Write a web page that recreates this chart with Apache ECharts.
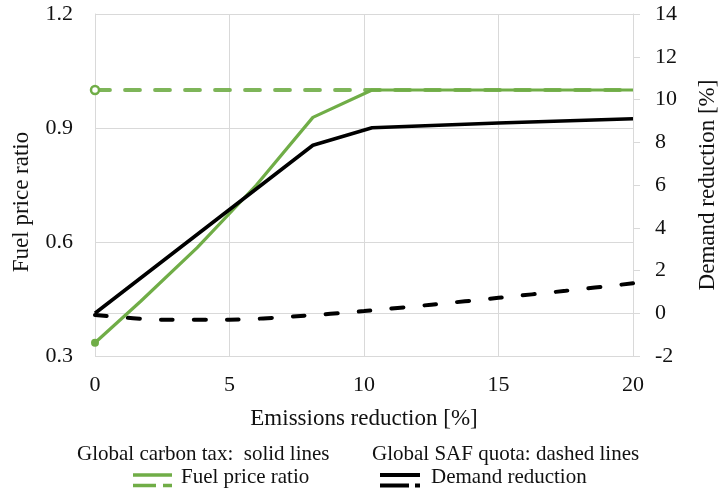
<!DOCTYPE html>
<html>
<head>
<meta charset="utf-8">
<script src="https://cdn.jsdelivr.net/npm/echarts@6/dist/echarts.min.js"></script>
<style>
  html, body { margin: 0; padding: 0; background: #fff; }
  #chart { width: 721px; height: 495px; }
</style>
</head>
<body>
<div id="chart"></div>
<script>
// Emissions reduction [%] on the x axis
const emissionsTicks = [0, 5, 10, 15, 20];

// Fuel price ratio (left axis)
const priceTaxX = [0, 1.7, 3.8, 6, 8.1, 10.3, 20];
const priceTax  = [0.335, 0.444, 0.585, 0.75, 0.928, 1.0, 1.0];
const priceQuotaX = [0, 20];
const priceQuota  = [1.0, 1.0];

// Demand reduction [%] (right axis)
const demandTaxX = [0, 8.1, 10.3, 15, 20];
const demandTax  = [0, 7.86, 8.68, 8.9, 9.1];
const demandQuotaX = [0, 2.5, 5, 7.5, 10, 12.5, 15, 17.5, 20];
const demandQuota  = [-0.08, -0.3, -0.3, -0.14, 0.1, 0.4, 0.72, 1.05, 1.4];

// Axis tick labels
const priceTicks = ['0.3', '0.6', '0.9', '1.2'];
const demandTicks = ['-2', '0', '2', '4', '6', '8', '10', '12', '14'];

const GREEN = '#70AD47';
const GRID_GRAY = '#d9d9d9';
const TEXT = '#111';
const FONT = 'Liberation Serif';

const pairs = (xs, ys) => xs.map((x, i) => [x, ys[i]]);
const firstOnly = (v, p) => (p.dataIndex === 0 ? 'circle' : 'none');

const chart = echarts.init(document.getElementById('chart'), null, { renderer: 'canvas' });

chart.setOption({
  animation: false,
  backgroundColor: '#fff',
  textStyle: { fontFamily: FONT, color: TEXT },
  grid: { left: 95, right: 88, top: 14, bottom: 139, containLabel: false, outerBoundsMode: 'none' },
  xAxis: {
    type: 'value',
    min: emissionsTicks[0],
    max: emissionsTicks[emissionsTicks.length - 1],
    interval: 5,
    name: 'Emissions reduction [%]',
    nameLocation: 'middle',
    nameGap: 51,
    nameTextStyle: { fontFamily: FONT, fontSize: 23, color: TEXT },
    axisLine: { show: true, lineStyle: { color: GRID_GRAY, width: 1 } },
    axisTick: { show: false },
    axisLabel: { fontFamily: FONT, fontSize: 22, color: TEXT, margin: 18 },
    splitLine: { show: true, lineStyle: { color: GRID_GRAY, width: 1 } }
  },
  yAxis: [
    {
      type: 'value',
      position: 'left',
      min: 0.3,
      max: 1.2,
      interval: 0.3,
      name: 'Fuel price ratio',
      nameLocation: 'middle',
      nameGap: 62,
      nameRotate: 90,
      nameTextStyle: { fontFamily: FONT, fontSize: 23, color: TEXT, padding: [0, 34, 0, 0] },
      axisLine: { show: true, lineStyle: { color: GRID_GRAY, width: 1 } },
      axisTick: { show: false },
      axisLabel: {
        fontFamily: FONT, fontSize: 22, color: TEXT, margin: 22,
        formatter: (v) => {
          const s = v.toFixed(1);
          return priceTicks.includes(s) ? s : '';
        }
      },
      splitLine: { show: true, lineStyle: { color: GRID_GRAY, width: 1 } }
    },
    {
      type: 'value',
      position: 'right',
      min: -2,
      max: 14,
      interval: 2,
      name: 'Demand reduction [%]',
      nameLocation: 'middle',
      nameGap: 63,
      nameRotate: 90,
      nameTextStyle: { fontFamily: FONT, fontSize: 23, color: TEXT },
      axisLine: { show: true, lineStyle: { color: GRID_GRAY, width: 1 } },
      axisTick: { show: true, inside: false, length: 7, lineStyle: { color: GRID_GRAY, width: 1 } },
      axisLabel: {
        fontFamily: FONT, fontSize: 22, color: TEXT, margin: 22,
        formatter: (v) => {
          const s = String(Math.round(v));
          return demandTicks.includes(s) ? s : '';
        }
      },
      splitLine: { show: false }
    }
  ],
  series: [
    {
      name: 'Fuel price ratio (SAF quota)',
      type: 'line',
      xAxisIndex: 0,
      yAxisIndex: 0,
      data: pairs(priceQuotaX, priceQuota),
      symbol: firstOnly,
      symbolSize: 8,
      showAllSymbol: true,
      itemStyle: { color: '#fff', borderColor: GREEN, borderWidth: 2.5 },
      lineStyle: { color: GREEN, width: 3.8, type: [15, 15], cap: 'round', opacity: 0.9 },
      z: 2
    },
    {
      name: 'Demand reduction (SAF quota)',
      type: 'line',
      xAxisIndex: 0,
      yAxisIndex: 1,
      data: pairs(demandQuotaX, demandQuota),
      smooth: 0.3,
      symbol: 'none',
      lineStyle: { color: '#000', width: 4, type: [12, 21], cap: 'round' },
      z: 3
    },
    {
      name: 'Fuel price ratio (carbon tax)',
      type: 'line',
      xAxisIndex: 0,
      yAxisIndex: 0,
      data: pairs(priceTaxX, priceTax),
      symbol: firstOnly,
      symbolSize: 8,
      showAllSymbol: true,
      itemStyle: { color: GREEN, borderColor: GREEN, borderWidth: 0 },
      lineStyle: { color: GREEN, width: 3.2 },
      z: 4
    },
    {
      name: 'Demand reduction (carbon tax)',
      type: 'line',
      xAxisIndex: 0,
      yAxisIndex: 1,
      data: pairs(demandTaxX, demandTax),
      symbol: 'none',
      lineStyle: { color: '#000', width: 3.6 },
      z: 5
    }
  ],
  graphic: [
    // legend captions
    { type: 'text', left: 77, top: 444, style: { text: 'Global carbon tax:  solid lines', font: '21px "Liberation Serif"', fill: TEXT } },
    { type: 'text', left: 372, top: 444, style: { text: 'Global SAF quota: dashed lines', font: '21px "Liberation Serif"', fill: TEXT } },
    // legend keys: solid over dashed
    { type: 'line', shape: { x1: 133, y1: 475, x2: 172, y2: 475 }, style: { stroke: GREEN, lineWidth: 3.5 } },
    { type: 'line', shape: { x1: 133, y1: 485.5, x2: 172, y2: 485.5 }, style: { stroke: GREEN, lineWidth: 3.5, lineDash: [23, 7] } },
    { type: 'text', left: 181, top: 467, style: { text: 'Fuel price ratio', font: '21px "Liberation Serif"', fill: TEXT } },
    { type: 'line', shape: { x1: 380, y1: 475, x2: 420, y2: 475 }, style: { stroke: '#000', lineWidth: 4 } },
    { type: 'line', shape: { x1: 380, y1: 485.5, x2: 420, y2: 485.5 }, style: { stroke: '#000', lineWidth: 4, lineDash: [29, 6] } },
    { type: 'text', left: 431, top: 467, style: { text: 'Demand reduction', font: '21px "Liberation Serif"', fill: TEXT } }
  ]
});
</script>
</body>
</html>
